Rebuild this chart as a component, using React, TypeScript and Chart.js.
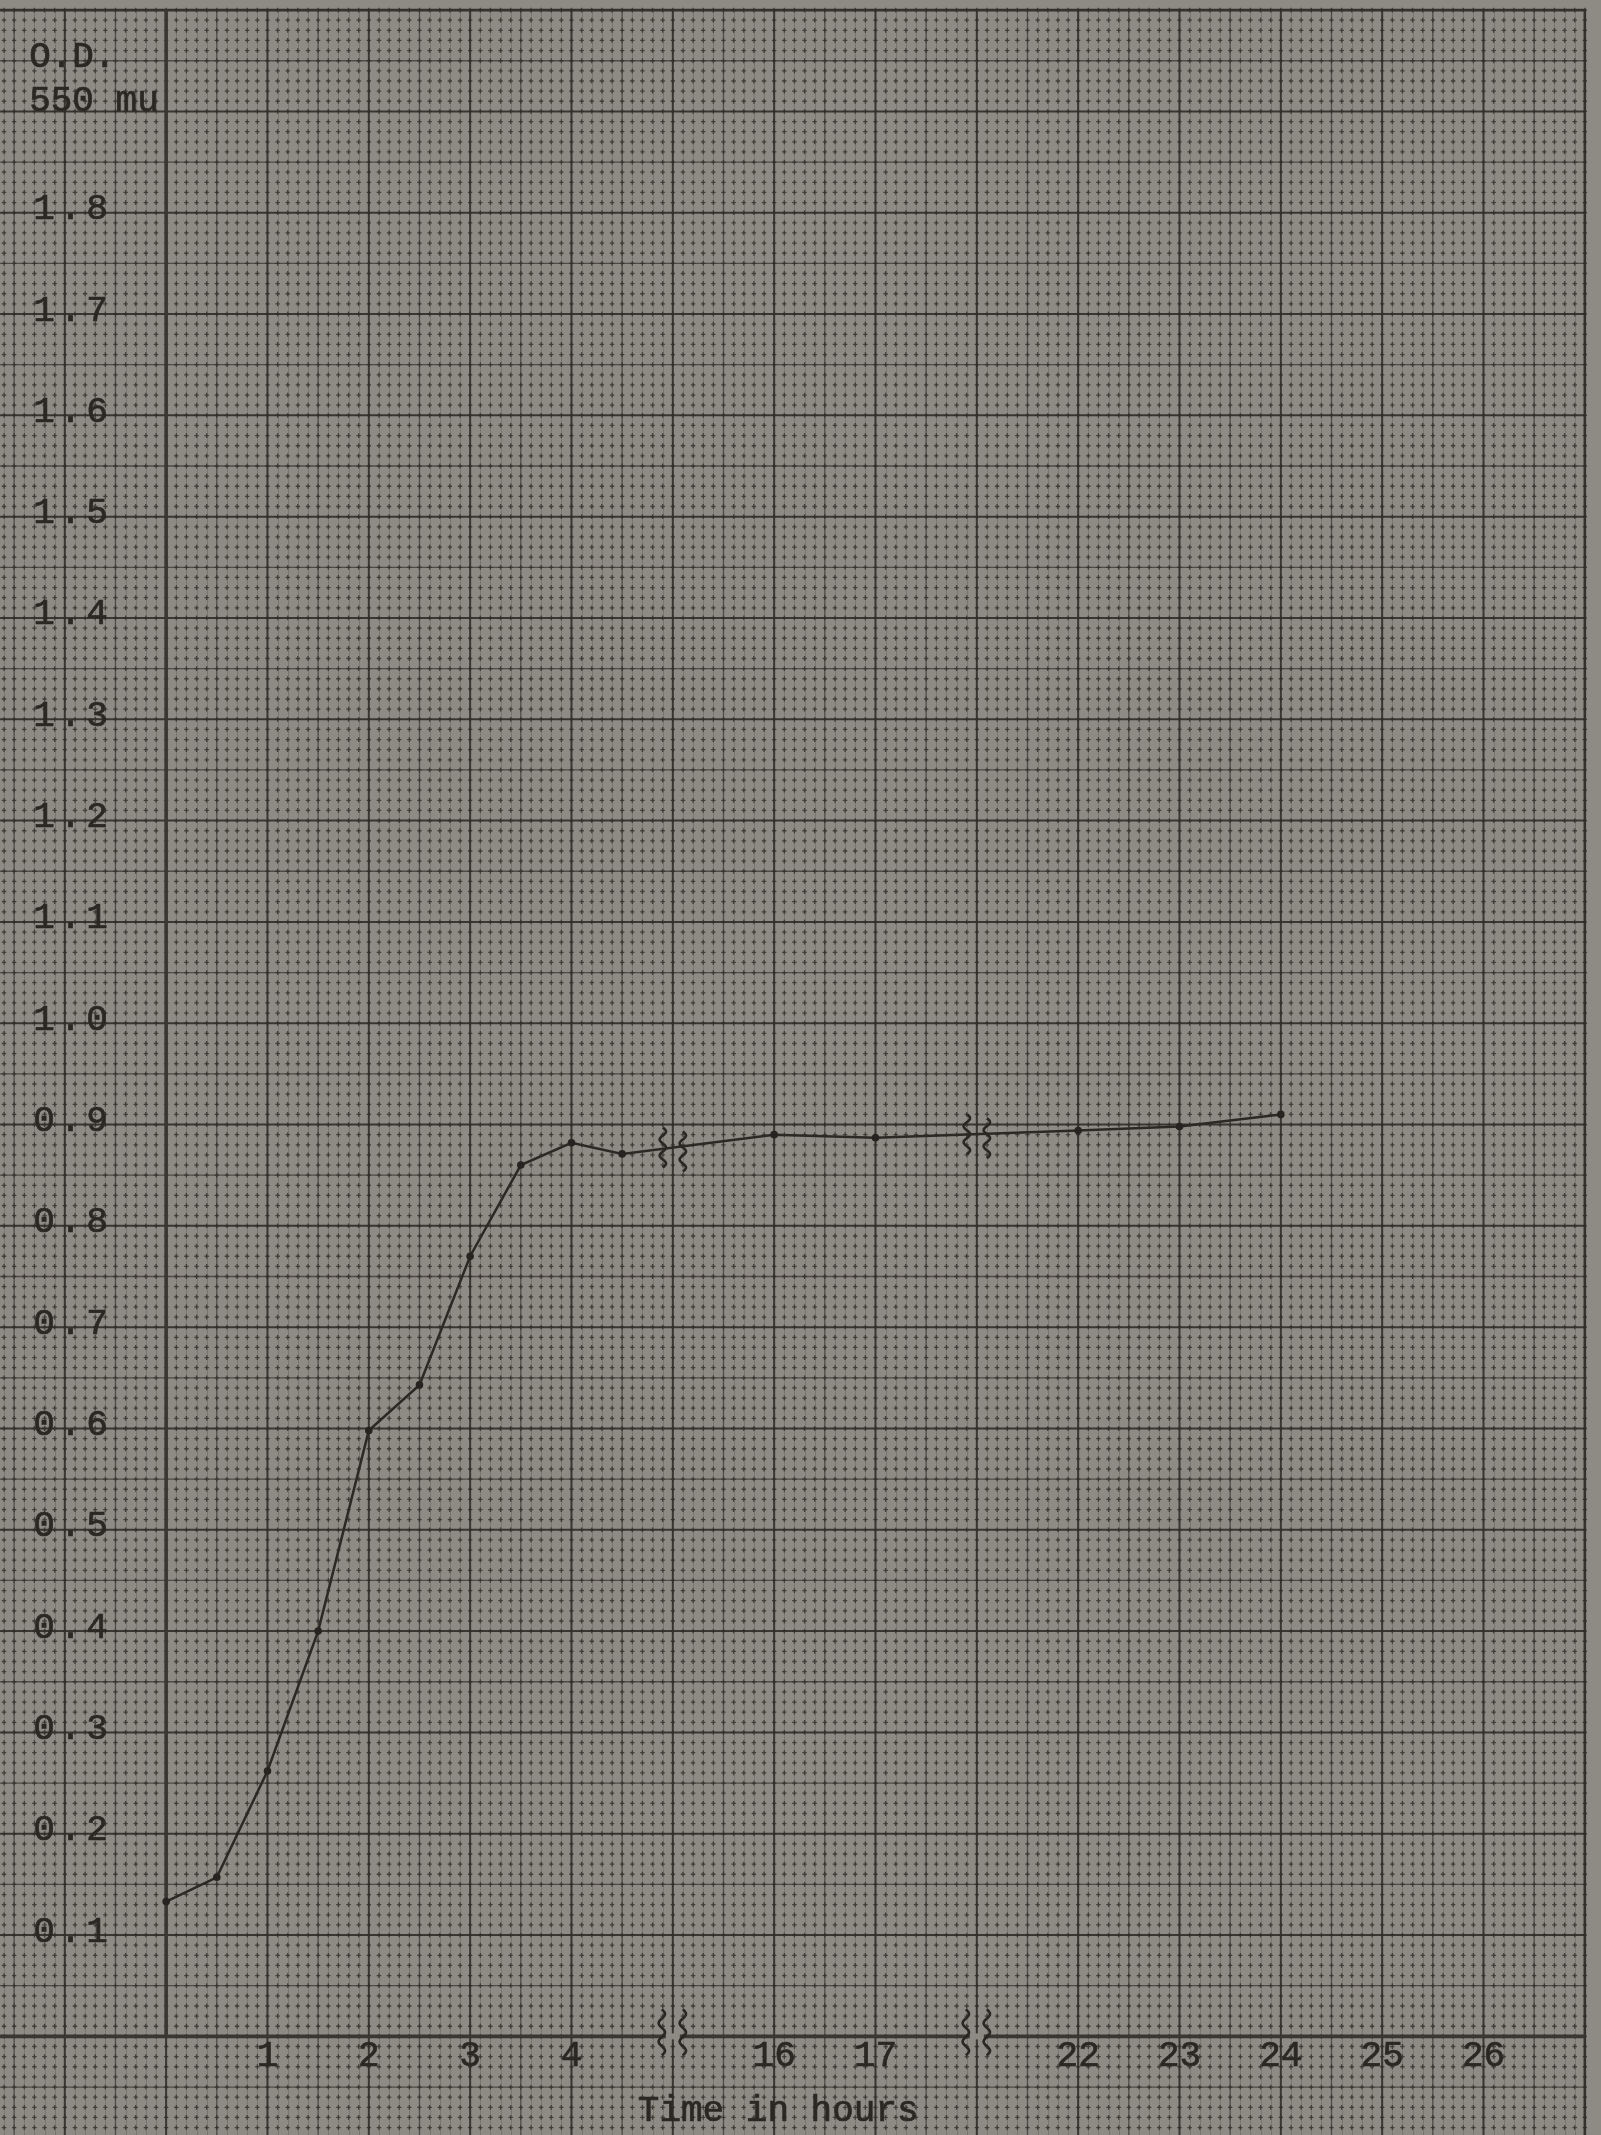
import { useEffect, useRef } from "react";
import { Chart, registerables } from "chart.js";

Chart.register(...registerables);

// ---- data ----
const hours = [0, 0.5, 1, 1.5, 2, 2.5, 3, 3.5, 4, 4.5, 16, 17, 22, 23, 24];
const odValues = [0.133, 0.157, 0.262, 0.4, 0.598, 0.643, 0.77, 0.86, 0.882, 0.871, 0.89, 0.887, 0.894, 0.898, 0.91];
const xTickHours = [1, 2, 3, 4, 16, 17, 22, 23, 24, 25, 26];
const yTickValues = [0.1, 0.2, 0.3, 0.4, 0.5, 0.6, 0.7, 0.8, 0.9, 1.0, 1.1, 1.2, 1.3, 1.4, 1.5, 1.6, 1.7, 1.8];
const yTickLabels = ["0.1", "0.2", "0.3", "0.4", "0.5", "0.6", "0.7", "0.8", "0.9", "1.0", "1.1", "1.2", "1.3", "1.4", "1.5", "1.6", "1.7", "1.8"];
const yTitleLines = ["O.D.", "550 mu"];
const xTitle = "Time in hours";
// broken time axis: [hour range start, hour range end, axis position of start]
const axisSegments = [
  [0, 5, 0],
  [15, 18, 5],
  [21, 27, 8],
];
const breakPositions = [5, 8];

function hourToAxis(h: number): number {
  for (const [a, b, p] of axisSegments) {
    if (h >= a && h <= b) return p + (h - a);
  }
  return h;
}

const PAPER = "#8e8b84";
const INK = "#2b2824";

function typeText(ctx: CanvasRenderingContext2D, s: string, x: number, y: number) {
  ctx.fillText(s, x, y);
  ctx.strokeText(s, x, y);
}

const paperPlugin = {
  id: "paper",
  beforeDatasetsDraw(chart: any) {
    const { ctx } = chart;
    const xs = chart.scales.x;
    const ys = chart.scales.y;
    const W = chart.width;
    const H = chart.height;
    const px = (v: number) => xs.getPixelForValue(v);
    const py = (v: number) => ys.getPixelForValue(v);
    const xMinPos = xs.min;
    const xMaxPos = 14;
    const yMinV = ys.min;
    const yMaxV = 2.0;
    const left = 0;
    const right = px(xMaxPos);
    const top = py(yMaxV);
    const bottom = H;

    ctx.save();
    ctx.fillStyle = PAPER;
    ctx.fillRect(0, 0, W, H);

    // faint fine vertical lines
    ctx.strokeStyle = "rgba(60,56,50,0.28)";
    ctx.lineWidth = 0.9;
    ctx.beginPath();
    for (let i = Math.ceil(xMinPos * 10); i <= xMaxPos * 10; i++) {
      if (i % 5 === 0) continue;
      const x = Math.round(px(i / 10)) + 0.5;
      ctx.moveTo(x, top);
      ctx.lineTo(x, bottom);
    }
    ctx.stroke();

    // crosses at fine intersections
    ctx.strokeStyle = "rgba(52,49,44,0.85)";
    ctx.lineWidth = 1.3;
    ctx.beginPath();
    for (let i = Math.ceil(xMinPos * 10); i <= xMaxPos * 10; i++) {
      const x = px(i / 10);
      for (let j = Math.ceil(yMinV * 100); j <= yMaxV * 100; j++) {
        const y = py(j / 100);
        ctx.moveTo(x - 2.2, y);
        ctx.lineTo(x + 2.2, y);
        ctx.moveTo(x, y - 2.4);
        ctx.lineTo(x, y + 2.4);
      }
    }
    ctx.stroke();

    // half-unit lines
    ctx.strokeStyle = "rgba(52,49,44,0.7)";
    ctx.lineWidth = 1.3;
    ctx.beginPath();
    for (let i = Math.ceil(xMinPos * 2); i <= xMaxPos * 2; i++) {
      if (i % 2 === 0) continue;
      const x = px(i / 2);
      ctx.moveTo(x, top);
      ctx.lineTo(x, bottom);
    }
    for (let j = Math.ceil(yMinV * 20); j <= yMaxV * 20; j++) {
      if (j % 2 === 0) continue;
      const y = py(j / 20);
      ctx.moveTo(left, y);
      ctx.lineTo(right, y);
    }
    ctx.stroke();

    // unit lines
    ctx.strokeStyle = "rgba(48,45,40,0.9)";
    ctx.lineWidth = 2;
    ctx.beginPath();
    for (let i = Math.ceil(xMinPos); i <= xMaxPos - 1; i++) {
      const x = px(i);
      ctx.moveTo(x, top);
      ctx.lineTo(x, bottom);
    }
    for (let j = Math.ceil(yMinV * 10); j <= yMaxV * 10 - 1; j++) {
      const y = py(j / 10);
      ctx.moveTo(left, y);
      ctx.lineTo(right, y);
    }
    ctx.stroke();

    // paper border (top and right)
    ctx.strokeStyle = "rgba(48,45,40,0.95)";
    ctx.lineWidth = 2.6;
    ctx.beginPath();
    ctx.moveTo(left, top);
    ctx.lineTo(right, top);
    ctx.lineTo(right, bottom);
    ctx.stroke();

    // axes
    ctx.strokeStyle = "#3a3631";
    ctx.lineWidth = 3.6;
    ctx.beginPath();
    ctx.moveTo(left, py(0));
    ctx.lineTo(right, py(0));
    ctx.moveTo(px(0), py(0));
    ctx.lineTo(px(0), top);
    ctx.stroke();

    // labels
    ctx.fillStyle = INK;
    ctx.strokeStyle = INK;
    ctx.lineWidth = 0.7;
    ctx.font = '36px "Liberation Mono", "DejaVu Sans Mono", monospace';
    ctx.textBaseline = "middle";
    ctx.textAlign = "left";
    (ctx as any).letterSpacing = "5px";
    yTickValues.forEach((v, k) => {
      typeText(ctx, yTickLabels[k], px(0) - 133, py(v) - 3);
    });
    (ctx as any).letterSpacing = "0px";
    ctx.textAlign = "center";
    xTickHours.forEach((h) => {
      typeText(ctx, String(h), px(hourToAxis(h)), py(0) + 20);
    });
    typeText(ctx, xTitle, px(6.04), py(0) + 75);
    ctx.textAlign = "left";
    ctx.textBaseline = "alphabetic";
    typeText(ctx, yTitleLines[0], px(0) - 137, py(1.9) - 44);
    typeText(ctx, yTitleLines[1], px(0) - 137, py(1.9) + 0);
    ctx.restore();
  },
  afterDatasetsDraw(chart: any) {
    const { ctx } = chart;
    const xs = chart.scales.x;
    const ys = chart.scales.y;
    const pts = chart.getDatasetMeta(0).data;
    const squiggle = (cx: number, cy: number, h: number) => {
      ctx.beginPath();
      const n = 40;
      for (let s = 0; s <= n; s++) {
        const t = s / n;
        const x = cx + 3.2 * Math.sin(t * Math.PI * 5);
        const y = cy - h / 2 + t * h;
        if (s === 0) ctx.moveTo(x, y);
        else ctx.lineTo(x, y);
      }
      ctx.stroke();
    };
    ctx.save();
    ctx.strokeStyle = "#2a2723";
    ctx.lineWidth = 2.6;
    breakPositions.forEach((pos) => {
      const bx = xs.getPixelForValue(pos);
      // on axis
      const ay = ys.getPixelForValue(0);
      ctx.fillStyle = PAPER;
      ctx.fillRect(bx - 7, ay - 3, 14, 6);
      squiggle(bx - 11, ay - 4, 46);
      squiggle(bx + 10, ay - 4, 46);
      // on curve
      for (let k = 0; k < pts.length - 1; k++) {
        if (pts[k].x <= bx && pts[k + 1].x >= bx) {
          const f = (bx - pts[k].x) / (pts[k + 1].x - pts[k].x);
          const cy = pts[k].y + f * (pts[k + 1].y - pts[k].y);
          squiggle(bx - 10, cy, 40);
          squiggle(bx + 10, cy + 4, 40);
          break;
        }
      }
    });
    ctx.restore();
  },
};

export default function App() {
  const ref = useRef<HTMLCanvasElement | null>(null);
  useEffect(() => {
    document.body.style.margin = "0";
    document.body.style.overflow = "hidden";
    const canvas = ref.current;
    if (!canvas) return;
    const chart = new Chart(canvas, {
      type: "line",
      data: {
        datasets: [
          {
            data: hours.map((h, i) => ({ x: hourToAxis(h), y: odValues[i] })),
            borderColor: "#2c2925",
            borderWidth: 2.5,
            pointRadius: 3.8,
            pointBackgroundColor: "#262320",
            pointBorderWidth: 0,
            tension: 0,
            fill: false,
          },
        ],
      },
      options: {
        animation: false,
        responsive: false,
        maintainAspectRatio: false,
        events: [],
        layout: { padding: 0 },
        plugins: { legend: { display: false }, tooltip: { enabled: false }, title: { display: false } },
        scales: {
          x: { type: "linear", min: -1.6, max: 14.12, display: false },
          y: { type: "linear", min: -0.0934, max: 2.006, display: false },
        },
      },
      plugins: [paperPlugin],
    });
    return () => chart.destroy();
  }, []);
  return (
    <div style={{ position: "absolute", left: 0, top: 0, width: 1601, height: 2135, background: PAPER }}>
      <canvas ref={ref} width={1601} height={2135} style={{ display: "block", width: 1601, height: 2135 }} />
    </div>
  );
}
